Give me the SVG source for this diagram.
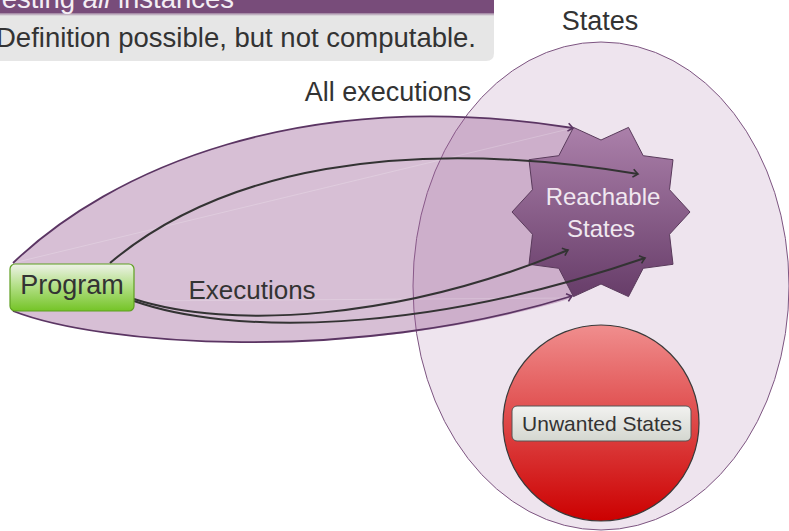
<svg xmlns="http://www.w3.org/2000/svg" width="789" height="531" viewBox="0 0 789 531">
  <defs>
    <linearGradient id="gStar" x1="0" y1="0" x2="0" y2="1">
      <stop offset="0" stop-color="#ab80aa"/>
      <stop offset="1" stop-color="#673d69"/>
    </linearGradient>
    <linearGradient id="gRed" x1="0" y1="0" x2="0" y2="1">
      <stop offset="0" stop-color="#f08e8e"/>
      <stop offset="1" stop-color="#cc0000"/>
    </linearGradient>
    <linearGradient id="gProg" x1="0" y1="0" x2="0" y2="1">
      <stop offset="0" stop-color="#eef2e8"/>
      <stop offset="0.45" stop-color="#b5e08a"/>
      <stop offset="1" stop-color="#74c426"/>
    </linearGradient>
    <linearGradient id="gLabel" x1="0" y1="0" x2="0" y2="1">
      <stop offset="0" stop-color="#f2f2f0"/>
      <stop offset="1" stop-color="#d4d7d0"/>
    </linearGradient>
    <linearGradient id="gBand" x1="0" y1="0" x2="0" y2="1">
      <stop offset="0" stop-color="#9a7b9b"/>
      <stop offset="1" stop-color="#e6e6e6"/>
    </linearGradient>
    <marker id="arrDark" viewBox="-6 -5 8 10" markerWidth="8" markerHeight="10" refX="0" refY="0" orient="auto" markerUnits="userSpaceOnUse">
      <path d="M-5,-4 Q-1.5,-1 0,0 Q-1.5,1 -5,4" fill="none" stroke="#333333" stroke-width="1.6"/>
    </marker>
    <marker id="arrPurple" viewBox="-6 -5 8 10" markerWidth="8" markerHeight="10" refX="0" refY="0" orient="auto" markerUnits="userSpaceOnUse">
      <path d="M-5,-4 Q-1.5,-1 0,0 Q-1.5,1 -5,4" fill="none" stroke="#5b3563" stroke-width="1.6"/>
    </marker>
  </defs>
  <style>
    text { font-family: "Liberation Sans", Arial, sans-serif; }
    .dark { fill: #333333; }
    .conn { fill: none; stroke: #333333; stroke-width: 2; }
    .edge { fill: none; stroke: #5b3563; stroke-width: 1.8; }
    .seam { fill: none; stroke: #ffffff; stroke-opacity: 0.25; stroke-width: 0.8; }
  </style>

  <rect width="789" height="531" fill="#ffffff"/>

  <!-- block: title bar and body -->
  <g id="block">
    <rect x="0" y="-20" width="494" height="33" fill="#784c7a"/>
    <rect x="0" y="13" width="494" height="3" fill="url(#gBand)"/>
    <path d="M0,16 H494 V53 Q494,61 486,61 H0 Z" fill="#e6e6e6"/>
    <text x="-12" y="8" font-size="27.5" fill="#f4eef4">Testing <tspan font-style="italic">all</tspan> instances</text>
    <text x="-4" y="47" font-size="27.5" class="dark">Definition possible, but not computable.</text>
  </g>

  <!-- state space -->
  <g id="states">
    <ellipse cx="601" cy="286" rx="188" ry="244" fill="#eee4ee" stroke="#7d5581" stroke-width="1"/>
    <text x="600" y="30" font-size="27" text-anchor="middle" class="dark">States</text>
  </g>

  <!-- cone of all executions -->
  <g id="all-executions">
    <path d="M13,263 C110,170 300,85 573,128 L572,298 C350,365 100,345 13,311 Z" fill="#9b5e97" fill-opacity="0.4"/>
    <path class="seam" d="M13,263 L573,128"/>
    <path class="seam" d="M134,301 L572,298"/>
    <text x="388" y="101" font-size="27" text-anchor="middle" class="dark">All executions</text>
  </g>

  <!-- reachable states -->
  <g id="reachable">
    <polygon points="690,212 669.5,189.7 673,159.7 643.2,155.7 628.5,127.4 601,140 573.5,127.4 558.8,155.7 529,159.7 532.5,189.7 512,212 532.5,234.3 529,264.3 558.8,268.3 573.5,296.6 601,284 628.5,296.6 643.2,268.3 673,264.3 669.5,234.3" fill="url(#gStar)" stroke="#593a5b" stroke-width="1"/>
    <text x="603" y="205" font-size="24" text-anchor="middle" fill="#f0e8f0">Reachable</text>
    <text x="601" y="237" font-size="24" text-anchor="middle" fill="#f0e8f0">States</text>
  </g>

  <!-- unwanted states -->
  <g id="unwanted">
    <circle cx="601" cy="423" r="98" fill="url(#gRed)" stroke="#3a3a3a" stroke-width="1.2"/>
    <rect x="512" y="406" width="179" height="35" rx="5" fill="url(#gLabel)" stroke="#555555" stroke-width="1"/>
    <text x="602" y="431" font-size="21" text-anchor="middle" class="dark">Unwanted States</text>
  </g>

  <!-- connectors -->
  <g id="connectors">
    <path class="edge" d="M13,263 C110,170 300,85 573,128" marker-end="url(#arrPurple)"/>
    <path class="edge" d="M13,311 C100,345 350,365 572,296" marker-end="url(#arrPurple)"/>
    <path class="conn" d="M110,263 C220,170 400,135 638,174" marker-end="url(#arrDark)"/>
    <path class="conn" d="M134,299 C230,330 400,320 568,250" marker-end="url(#arrDark)"/>
    <path class="conn" d="M134,301 C230,335 420,335 645,258" marker-end="url(#arrDark)"/>
    <text x="252" y="299" font-size="26" text-anchor="middle" class="dark">Executions</text>
  </g>

  <!-- program -->
  <g id="program">
    <rect x="10" y="264" width="124" height="47" rx="5" fill="url(#gProg)" stroke="#5f9f22" stroke-width="1.2"/>
    <text x="72" y="294" font-size="27" text-anchor="middle" class="dark">Program</text>
  </g>
</svg>
